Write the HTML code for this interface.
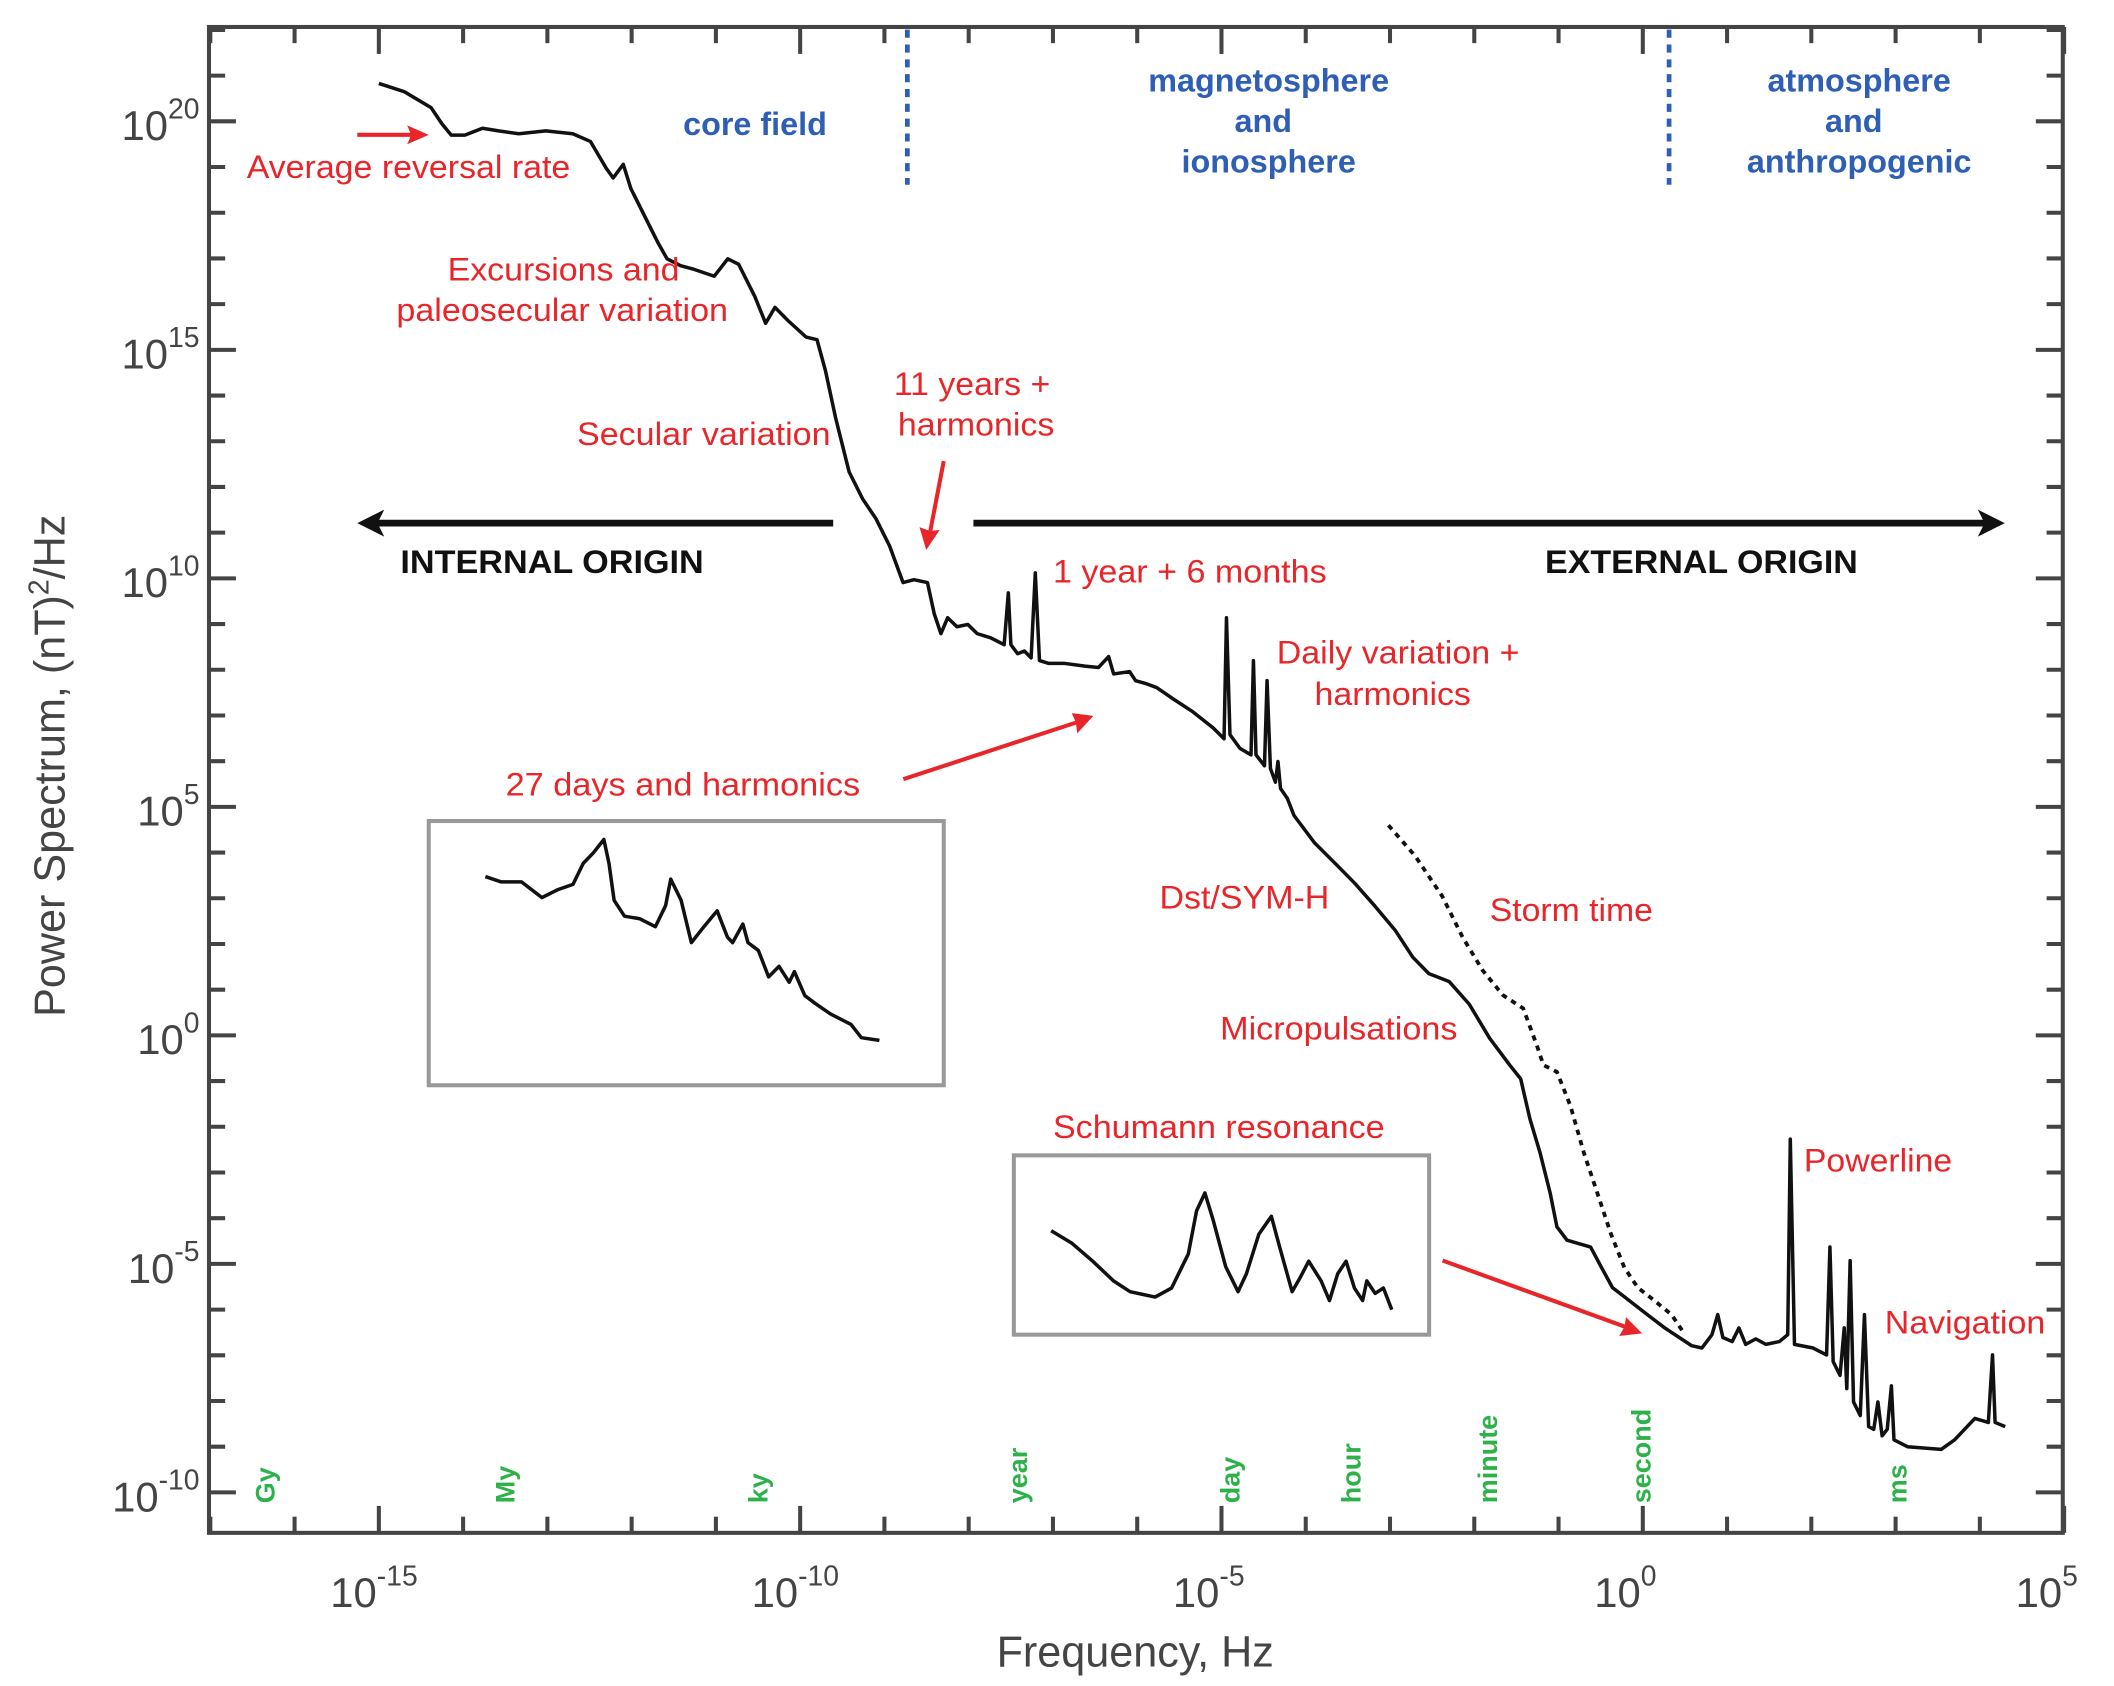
<!DOCTYPE html>
<html><head><meta charset="utf-8">
<style>
html,body{margin:0;padding:0;background:#fff;}
svg{display:block;}
text{font-family:"Liberation Sans",sans-serif;}
</style></head>
<body>
<svg id="chart" width="2114" height="1686" viewBox="0 0 1568 1250.6" preserveAspectRatio="none" xmlns="http://www.w3.org/2000/svg">
<rect x="0" y="0" width="1568" height="1251" fill="#fff"/>
<g id="ticks"></g>
<g id="ticklabels"></g>
<g id="marks"></g>
<rect x="155" y="20" width="1375" height="1117" fill="none" stroke="#444" stroke-width="3"/>

<text x="842" y="1236" font-size="32" fill="#444" text-anchor="middle">Frequency, Hz</text>
<text transform="translate(48,568) rotate(-90)" font-size="32" fill="#444" text-anchor="middle">Power Spectrum, (nT)<tspan font-size="21" dy="-12">2</tspan><tspan dy="12">/Hz</tspan></text>

<!-- region separators -->
<line x1="673" y1="22" x2="673" y2="137" stroke="#2e5fb5" stroke-width="3.5" stroke-dasharray="6,5"/>
<line x1="1238" y1="22" x2="1238" y2="137" stroke="#2e5fb5" stroke-width="3.5" stroke-dasharray="6,5"/>
<g font-size="24" font-weight="bold" fill="#2e5fb5" text-anchor="middle">
<text x="560" y="100">core field</text>
<text x="941" y="68">magnetosphere</text>
<text x="937" y="98">and</text>
<text x="941" y="128">ionosphere</text>
<text x="1379" y="68">atmosphere</text>
<text x="1375" y="98">and</text>
<text x="1379" y="128">anthropogenic</text>
</g>

<!-- origin arrows -->
<line x1="280" y1="388" x2="618" y2="388" stroke="#111" stroke-width="5"/>
<polygon points="265,388 285,378 280,388 285,398" fill="#111"/>
<line x1="722" y1="388" x2="1472" y2="388" stroke="#111" stroke-width="5"/>
<polygon points="1487,388 1467,378 1472,388 1467,398" fill="#111"/>
<text x="297" y="425" font-size="24" font-weight="bold" fill="#111" textLength="225" lengthAdjust="spacingAndGlyphs">INTERNAL ORIGIN</text>
<text x="1146" y="425" font-size="24" font-weight="bold" fill="#111" textLength="232" lengthAdjust="spacingAndGlyphs">EXTERNAL ORIGIN</text>

<!-- red annotations -->
<g font-size="24" fill="#e8262a">
<text x="183" y="132" textLength="240" lengthAdjust="spacingAndGlyphs">Average reversal rate</text>
<text x="332" y="208" textLength="172" lengthAdjust="spacingAndGlyphs">Excursions and</text>
<text x="294" y="238" textLength="246" lengthAdjust="spacingAndGlyphs">paleosecular variation</text>
<text x="428" y="330" textLength="188" lengthAdjust="spacingAndGlyphs">Secular variation</text>
<text x="663" y="293" textLength="116" lengthAdjust="spacingAndGlyphs">11 years +</text>
<text x="666" y="323" textLength="116" lengthAdjust="spacingAndGlyphs">harmonics</text>
<text x="781" y="432" textLength="203" lengthAdjust="spacingAndGlyphs">1 year + 6 months</text>
<text x="947" y="492" textLength="180" lengthAdjust="spacingAndGlyphs">Daily variation +</text>
<text x="975" y="523" textLength="116" lengthAdjust="spacingAndGlyphs">harmonics</text>
<text x="375" y="590" textLength="263" lengthAdjust="spacingAndGlyphs">27 days and harmonics</text>
<text x="860" y="674" textLength="126" lengthAdjust="spacingAndGlyphs">Dst/SYM-H</text>
<text x="1105" y="683" textLength="121" lengthAdjust="spacingAndGlyphs">Storm time</text>
<text x="905" y="771" textLength="176" lengthAdjust="spacingAndGlyphs">Micropulsations</text>
<text x="781" y="844" textLength="246" lengthAdjust="spacingAndGlyphs">Schumann resonance</text>
<text x="1338" y="869" textLength="110" lengthAdjust="spacingAndGlyphs">Powerline</text>
<text x="1398" y="989" textLength="119" lengthAdjust="spacingAndGlyphs">Navigation</text>
</g>
<g stroke="#e8262a" stroke-width="3" fill="#e8262a">
<line x1="265" y1="100" x2="306" y2="100"/>
<polygon points="318,100 302,93 305,100 302,107" stroke="none"/>
<line x1="700" y1="342" x2="690" y2="394"/>
<polygon points="687,408 682,391 690,394 697,393" stroke="none"/>
<line x1="670" y1="578" x2="798" y2="536"/>
<polygon points="811,531 795,529 798,536 799,544" stroke="none"/>
<line x1="1070" y1="935" x2="1205" y2="984"/>
<polygon points="1218,989 1206,977 1205,984 1201,991" stroke="none"/>
</g>

<!-- insets -->
<rect x="318" y="609" width="382" height="196" fill="none" stroke="#999" stroke-width="3"/>
<rect x="752" y="857" width="308" height="133" fill="none" stroke="#999" stroke-width="3"/>
<g id="insets"></g>

<!-- green period labels -->
<g id="periods" font-size="20" font-weight="bold" fill="#2db24a"></g>
</svg>

<script>
// ---- data (log10 frequency [Hz], log10 power [(nT)^2/Hz]) ----
const mainLogF = [-15.00,-14.70,-14.38,-14.25,-14.14,-13.98,-13.77,-13.58,-13.34,-13.02,-12.70,-12.49,-12.30,-12.22,-12.10,-12.01,-11.85,-11.69,-11.58,-11.42,-11.26,-11.02,-10.86,-10.73,-10.54,-10.41,-10.30,-10.14,-9.93,-9.80,-9.70,-9.58,-9.42,-9.26,-9.10,-8.94,-8.78,-8.65,-8.49,-8.41,-8.33,-8.25,-8.14,-8.01,-7.90,-7.74,-7.58,-7.53,-7.50,-7.42,-7.34,-7.26,-7.21,-7.16,-7.05,-6.86,-6.62,-6.46,-6.34,-6.28,-6.09,-6.02,-5.90,-5.77,-5.58,-5.34,-5.10,-4.97,-4.94,-4.90,-4.78,-4.65,-4.62,-4.59,-4.49,-4.46,-4.42,-4.36,-4.33,-4.30,-4.22,-4.14,-3.90,-3.66,-3.42,-3.18,-2.94,-2.73,-2.54,-2.30,-2.06,-1.82,-1.58,-1.45,-1.34,-1.22,-1.10,-1.02,-0.90,-0.62,-0.49,-0.36,-0.22,-0.01,0.26,0.58,0.70,0.82,0.89,0.95,1.06,1.14,1.22,1.34,1.46,1.62,1.72,1.75,1.80,2.02,2.18,2.22,2.26,2.34,2.39,2.42,2.46,2.50,2.58,2.63,2.68,2.74,2.79,2.84,2.90,2.95,2.98,3.14,3.54,3.70,3.94,4.10,4.15,4.18,4.30];
const mainLogP = [20.83,20.65,20.30,19.94,19.70,19.70,19.85,19.79,19.73,19.79,19.73,19.56,18.97,18.76,19.06,18.53,17.94,17.35,16.99,16.84,16.76,16.61,16.99,16.87,16.17,15.58,15.93,15.63,15.28,15.22,14.54,13.51,12.33,11.74,11.30,10.71,9.91,9.97,9.91,9.23,8.79,9.14,8.94,8.99,8.79,8.70,8.55,9.68,8.55,8.35,8.41,8.26,10.12,8.20,8.14,8.14,8.08,8.05,8.29,7.91,7.96,7.76,7.70,7.61,7.37,7.08,6.73,6.49,9.14,6.58,6.28,6.14,8.20,6.14,5.90,7.76,5.84,5.54,5.99,5.40,5.19,4.81,4.22,3.78,3.33,2.83,2.30,1.71,1.35,1.18,0.68,-0.06,-0.65,-0.95,-1.83,-2.57,-3.45,-4.19,-4.48,-4.63,-5.08,-5.52,-5.72,-6.02,-6.40,-6.79,-6.84,-6.55,-6.11,-6.61,-6.70,-6.40,-6.76,-6.64,-6.76,-6.70,-6.55,-2.27,-6.76,-6.84,-6.99,-4.63,-7.14,-7.44,-6.40,-7.73,-4.93,-8.02,-8.32,-6.11,-8.56,-8.62,-8.02,-8.76,-8.62,-7.67,-8.85,-9.00,-9.06,-8.85,-8.38,-8.47,-6.99,-8.47,-8.56];
const stormLogF = [-3.02,-2.70,-2.38,-2.14,-1.90,-1.66,-1.42,-1.26,-1.18,-1.02,-0.86,-0.70,-0.54,-0.38,-0.22,-0.06,0.10,0.34,0.50];
const stormLogP = [4.60,3.92,3.04,2.15,1.42,0.88,0.59,-0.21,-0.65,-0.80,-1.54,-2.57,-3.45,-4.34,-5.08,-5.52,-5.75,-6.11,-6.55];
// inset curves: normalized positions within inset (0..1)
const inset27X = [0.11,0.14,0.18,0.20,0.22,0.25,0.28,0.30,0.32,0.34,0.35,0.36,0.38,0.41,0.44,0.46,0.47,0.49,0.51,0.53,0.56,0.58,0.59,0.61,0.62,0.64,0.66,0.68,0.70,0.71,0.73,0.75,0.78,0.82,0.84,0.875];
const inset27Y = [0.21,0.23,0.23,0.26,0.29,0.26,0.24,0.16,0.12,0.07,0.16,0.30,0.36,0.37,0.40,0.32,0.22,0.30,0.46,0.41,0.34,0.44,0.46,0.39,0.46,0.49,0.59,0.55,0.61,0.57,0.66,0.69,0.73,0.77,0.82,0.83];
const schumX = [0.09,0.14,0.19,0.24,0.28,0.34,0.38,0.42,0.44,0.46,0.48,0.51,0.54,0.56,0.59,0.62,0.64,0.67,0.69,0.71,0.74,0.76,0.78,0.80,0.82,0.84,0.85,0.87,0.89,0.91];
const schumY = [0.42,0.49,0.59,0.70,0.76,0.79,0.74,0.55,0.31,0.21,0.36,0.62,0.76,0.66,0.44,0.34,0.51,0.76,0.68,0.59,0.70,0.81,0.66,0.59,0.74,0.81,0.70,0.77,0.74,0.86];
const xTickExp = [-15,-10,-5,0,5];
const yTickExp = [20,15,10,5,0,-5,-10];
const periodNames = ["Gy","My","ky","year","day","hour","minute","second","ms"];
const periodLogF = [-16.35,-13.5,-10.5,-7.42,-4.9,-3.46,-1.84,-0.02,3.02];

// ---- axes ----
const X0=281, XD=62.5, Y0=90, YD=33.9;
function xs(lf){return X0+(lf+15)*XD;}
function ys(lp){return Y0+(20-lp)*YD;}
const NS="http://www.w3.org/2000/svg";
function mk(tag,attrs,parent){const e=document.createElementNS(NS,tag);for(const k in attrs)e.setAttribute(k,attrs[k]);parent.appendChild(e);return e;}

const tg=document.getElementById('ticks');
for(let e=-17;e<=5;e++){
  const x=xs(e); const major=xTickExp.includes(e); const L=major?20:12;
  let t=mk('line',{x1:x,y1:1137,x2:x,y2:1137-L,stroke:'#444','stroke-width':3},tg);
  
  
  t=mk('line',{x1:x,y1:20,x2:x,y2:20+L,stroke:'#444','stroke-width':3},tg);
  
  
}
for(let e=-10;e<=22;e++){
  const y=ys(e); const major=yTickExp.includes(e); const L=major?20:12;
  let t=mk('line',{x1:155,y1:y,x2:155+L,y2:y,stroke:'#444','stroke-width':3},tg);
  
  
  t=mk('line',{x1:1530,y1:y,x2:1530-L,y2:y,stroke:'#444','stroke-width':3},tg);
  
  
}
const lg=document.getElementById('ticklabels');
xTickExp.forEach(e=>{
  const t=mk('text',{x:xs(e)-36,y:1192,'font-size':31,fill:'#444'},lg);
  
  
  t.innerHTML='10<tspan font-size="21" dy="-16">'+(e<0?'-':'')+Math.abs(e)+'</tspan>';
});
yTickExp.forEach(e=>{
  const t=mk('text',{x:148,y:ys(e)+14,'font-size':31,fill:'#444','text-anchor':'end'},lg);
  
  
  t.innerHTML='10<tspan font-size="21" dy="-16">'+(e<0?'-':'')+Math.abs(e)+'</tspan>';
});

const mg=document.getElementById('marks');
let pts=mainLogF.map((f,i)=>xs(f).toFixed(1)+','+ys(mainLogP[i]).toFixed(1)).join(' ');
let p=mk('polyline',{points:pts,fill:'none',stroke:'#111','stroke-width':2.6,'stroke-linejoin':'round'},mg);


pts=stormLogF.map((f,i)=>xs(f).toFixed(1)+','+ys(stormLogP[i]).toFixed(1)).join(' ');
p=mk('polyline',{points:pts,fill:'none',stroke:'#111','stroke-width':2.8,'stroke-dasharray':'4,4'},mg);



const ig=document.getElementById('insets');
function inset(xa,ya,bx,by,bw,bh,name){
  const s=xa.map((v,i)=>(bx+v*bw).toFixed(1)+','+(by+ya[i]*bh).toFixed(1)).join(' ');
  const q=mk('polyline',{points:s,fill:'none',stroke:'#111','stroke-width':2.6,'stroke-linejoin':'round'},ig);
  
  
}
inset(inset27X,inset27Y,318,609,382,196,'27-day-inset-line');
inset(schumX,schumY,752,857,308,133,'schumann-inset-line');

const pg=document.getElementById('periods');
periodNames.forEach((n,i)=>{
  const x=xs(periodLogF[i])+7;
  const t=mk('text',{transform:'translate('+x+',1115) rotate(-90)'},pg);
  
  
  t.textContent=n;
});
</script>
</body></html>
